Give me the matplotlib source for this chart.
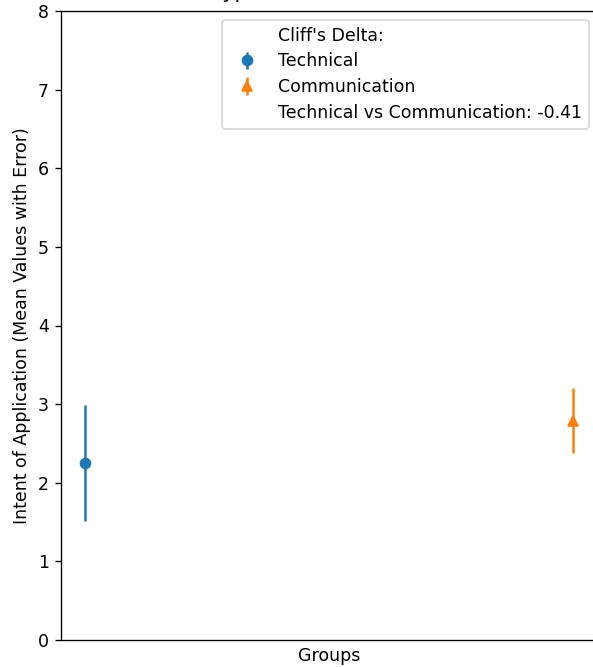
import numpy as np
import matplotlib
matplotlib.use('Agg')
import matplotlib.pyplot as plt
from matplotlib.lines import Line2D

# group means and errors
groups = ["Technical", "Communication"]
means = [2.25, 2.79]
errors = [0.74, 0.41]
markers = ['o', '^']
colors = ['C0', 'C1']
cliffs_delta = -0.41

plt.rcParams['font.size'] = 10.4

W, H, DPI = 593, 667, 120
fig = plt.figure(figsize=(W/DPI, H/DPI), dpi=DPI)
ax = fig.add_axes([60.6/W, 27/H, (597.4 - 60.6)/W, 629/H])

handles = [Line2D([], [], linestyle='none', label="Cliff's Delta:")]
for i, (g, m, e, mk, c) in enumerate(zip(groups, means, errors, markers, colors)):
    h = ax.errorbar(i, m, yerr=e, fmt=mk, color=c, label=g)
    handles.append(h)
handles.append(Line2D([], [], linestyle='none',
                      label=f"{groups[0]} vs {groups[1]}: {cliffs_delta:.2f}"))

ax.set_xlim(-0.05, 1.05)
ax.set_ylim(0, 8)
ax.set_xticks([])
ax.set_xlabel("Groups")
ax.set_ylabel("Intent of Application (Mean Values with Error)")
# the title sits mostly above the crop, only the descenders show
ax.set_title("Mean Intent Scores Between Types", x=0.392, ha='right', pad=7.5)
ax.legend(handles=handles, loc='upper right', labelspacing=0.45)

fig.savefig("out.png", dpi=DPI)
